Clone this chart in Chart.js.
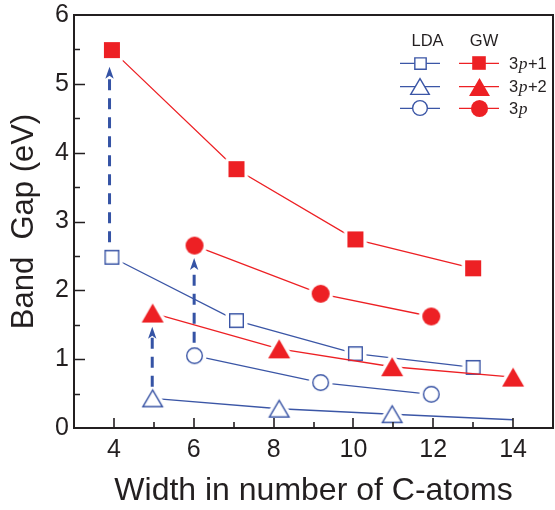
<!DOCTYPE html>
<html>
<head>
<meta charset="utf-8">
<script src="https://cdn.jsdelivr.net/npm/chart.js@4.4.1/dist/chart.umd.min.js"></script>
<style>
  html, body { margin: 0; padding: 0; background: #ffffff; }
  #wrap { width: 555px; height: 510px; }
</style>
</head>
<body>
<div id="wrap"><canvas id="c" width="555" height="510"></canvas></div>
<script>
// Band gaps of armchair ribbons by width family (3p+1, 3p+2, 3p), LDA vs GW
const widthsP1 = [3.95, 7.07, 10.05, 13];
const gwP1 = [5.49, 3.76, 2.74, 2.32];
const ldaP1 = [2.48, 1.56, 1.08, 0.88];

const widthsP2 = [4.97, 8.14, 10.97, 14];
const gwP2 = [1.67, 1.15, 0.89, 0.74];
const ldaP2 = [0.43, 0.28, 0.20, 0.12];

const widthsP = [6.02, 9.18, 11.95];
const gwP = [2.65, 1.95, 1.62];
const ldaP = [1.05, 0.66, 0.49];

// Quasiparticle correction arrows (LDA value -> GW value)
const arrowX = [3.89, 4.96, 6.01];
const arrowFrom = [2.70, 0.60, 1.24];
const arrowTo = [5.25, 1.47, 2.47];

const xTickValues = [4, 6, 8, 10, 12, 14];
const yTickValues = [0, 1, 2, 3, 4, 5, 6];

const familyLabels = ['+1', '+2', ''];
const methodLabels = ['LDA', 'GW'];

const RED = '#ed2024';
const BLUE = '#3b56a6';
const ARROW = '#3553a5';
const INK = '#231f20';
const SANS = '"Liberation Sans", Arial, Helvetica, sans-serif';
const SERIF = '"Liberation Serif", "Times New Roman", serif';

// Marker sprites; optional white halo keeps the connecting lines off the symbol
function markerIcon(shape, filled, color, w, h, halo) {
  const pad = halo ? 5 : 2;
  const cw = Math.round(w + 2 * pad), ch = Math.round(h + 2 * pad);
  const cv = document.createElement('canvas');
  cv.width = cw; cv.height = ch;
  const g = cv.getContext('2d');
  const cx = cw / 2, cy = ch / 2;
  function path(sw, sh) {
    g.beginPath();
    if (shape === 'square') g.rect(cx - sw / 2, cy - sh / 2, sw, sh);
    else if (shape === 'circle') g.arc(cx, cy, sw / 2, 0, Math.PI * 2);
    else {
      g.moveTo(cx, cy - sh / 2);
      g.lineTo(cx + sw / 2, cy + sh / 2);
      g.lineTo(cx - sw / 2, cy + sh / 2);
      g.closePath();
    }
  }
  g.lineJoin = 'round';
  if (halo) {
    path(w, h);
    g.strokeStyle = '#ffffff'; g.lineWidth = 7; g.stroke();
    g.fillStyle = '#ffffff'; g.fill();
  }
  if (filled) {
    path(w, h); g.fillStyle = color; g.fill();
  } else {
    path(w - 1.4, h - 1.4);
    g.fillStyle = '#ffffff'; g.fill();
    g.lineJoin = 'miter';
    g.strokeStyle = color; g.lineWidth = 1.4; g.stroke();
  }
  return cv;
}

const shapes = {
  gwSquare: ['square', true, RED, 16, 16],
  gwTri: ['triangle', true, RED, 22, 19],
  gwCircle: ['circle', true, RED, 18, 18],
  ldaSquare: ['square', false, BLUE, 15, 15],
  ldaTri: ['triangle', false, BLUE, 21, 18],
  ldaCircle: ['circle', false, BLUE, 17, 17]
};
const plotIcons = {}, legendIcons = {};
for (const k in shapes) {
  const s = shapes[k];
  const f = s[0] === 'square' ? 0.85 : 0.95;
  plotIcons[k] = markerIcon(s[0], s[1], s[2], s[3], s[4], true);
  legendIcons[k] = markerIcon(s[0], s[1], s[2], s[3] * f, s[4] * f, false);
}

function series(xs, ys, color, icon, hideLast) {
  return {
    data: xs.map((x, i) => ({ x: x, y: ys[i] })),
    borderColor: color,
    backgroundColor: color,
    borderWidth: 1.3,
    pointStyle: icon,
    pointRadius: (ctx) => (hideLast && ctx.dataIndex === xs.length - 1) ? 0 : 10,
    pointHoverRadius: 10,
    tension: 0,
    fill: false
  };
}

const datasets = [
  series(widthsP1, gwP1, RED, plotIcons.gwSquare),
  series(widthsP2, gwP2, RED, plotIcons.gwTri),
  series(widthsP, gwP, RED, plotIcons.gwCircle),
  series(widthsP1, ldaP1, BLUE, plotIcons.ldaSquare),
  series(widthsP2, ldaP2, BLUE, plotIcons.ldaTri, true),
  series(widthsP, ldaP, BLUE, plotIcons.ldaCircle)
];

// Dashed arrows from the LDA gap up to the GW gap
const arrowPlugin = {
  id: 'gapArrows',
  afterDatasetsDraw(chart) {
    const { ctx, scales: { x, y } } = chart;
    ctx.save();
    for (let i = 0; i < arrowX.length; i++) {
      const px = x.getPixelForValue(arrowX[i]);
      const y0 = y.getPixelForValue(arrowFrom[i]);
      const tip = y.getPixelForValue(arrowTo[i]);
      const headLen = 12, headW = 4.2;
      ctx.strokeStyle = ARROW;
      ctx.lineWidth = 3;
      ctx.setLineDash([11, 8]);
      ctx.beginPath();
      ctx.moveTo(px, y0);
      ctx.lineTo(px, tip + headLen - 2);
      ctx.stroke();
      ctx.setLineDash([]);
      ctx.fillStyle = ARROW;
      ctx.beginPath();
      ctx.moveTo(px, tip);
      ctx.lineTo(px + headW, tip + headLen);
      ctx.lineTo(px, tip + headLen - 3);
      ctx.lineTo(px - headW, tip + headLen);
      ctx.closePath();
      ctx.fill();
    }
    ctx.restore();
  }
};

// Box frame with inward major/minor ticks
const framePlugin = {
  id: 'frameTicks',
  afterDraw(chart) {
    const { ctx, chartArea: a, scales: { x, y } } = chart;
    ctx.save();
    ctx.strokeStyle = INK;
    ctx.lineWidth = 2;
    ctx.strokeRect(a.left, a.top, a.right - a.left, a.bottom - a.top);
    ctx.lineWidth = 1.6;
    ctx.beginPath();
    for (let v = 0.5; v < y.max; v += 0.5) {
      const py = Math.round(y.getPixelForValue(v)) + 0.5;
      const len = Number.isInteger(v) ? 11 : 6;
      ctx.moveTo(a.left, py); ctx.lineTo(a.left + len, py);
    }
    for (let v = Math.ceil(x.min) + 1; v < x.max; v += 1) {
      const px = Math.round(x.getPixelForValue(v));
      const len = v % 2 === 0 ? 10 : 6;
      ctx.moveTo(px, a.bottom); ctx.lineTo(px, a.bottom - len);
    }
    ctx.stroke();
    ctx.restore();
  }
};

// Two-column key: LDA (open) and GW (filled) per width family
const keyPlugin = {
  id: 'familyKey',
  afterDraw(chart) {
    const { ctx } = chart;
    const rows = [63.3, 86.7, 108.3];
    const cols = [420, 479];
    const colors = [BLUE, RED];
    const icons = [
      [legendIcons.ldaSquare, legendIcons.gwSquare],
      [legendIcons.ldaTri, legendIcons.gwTri],
      [legendIcons.ldaCircle, legendIcons.gwCircle]
    ];
    ctx.save();
    ctx.fillStyle = INK;
    ctx.font = '16.5px ' + SANS;
    ctx.textAlign = 'center';
    ctx.textBaseline = 'middle';
    ctx.fillText(methodLabels[0], 427.5, 41);
    ctx.fillText(methodLabels[1], 484, 41);
    for (let r = 0; r < rows.length; r++) {
      for (let c = 0; c < 2; c++) {
        ctx.strokeStyle = colors[c];
        ctx.lineWidth = 1.3;
        ctx.beginPath();
        ctx.moveTo(cols[c] - 20, rows[r]);
        ctx.lineTo(cols[c] + 20, rows[r]);
        ctx.stroke();
        const ic = icons[r][c];
        ctx.drawImage(ic, Math.round(cols[c] - ic.width / 2), Math.round(rows[r] - ic.height / 2));
      }
      ctx.fillStyle = INK;
      ctx.textAlign = 'left';
      ctx.textBaseline = 'middle';
      let tx = 509;
      ctx.font = '16.5px ' + SANS;
      ctx.fillText('3', tx, rows[r] + 1);
      tx += ctx.measureText('3').width + 0.5;
      ctx.font = 'italic 17.5px ' + SERIF;
      ctx.fillText('p', tx, rows[r] + 1);
      tx += ctx.measureText('p').width + 0.5;
      ctx.font = '16.5px ' + SANS;
      if (familyLabels[r]) ctx.fillText(familyLabels[r], tx, rows[r] + 1);
    }
    ctx.restore();
  }
};

// Fixed axis footprint; labels are allowed to overhang the plot box
function noOverhang(s) {
  s.paddingLeft = 0; s.paddingRight = 0; s.paddingTop = 0; s.paddingBottom = 0;
}

new Chart(document.getElementById('c'), {
  type: 'line',
  data: { datasets: datasets },
  options: {
    responsive: false,
    animation: false,
    devicePixelRatio: 1,
    layout: { autoPadding: false, padding: { top: 15, right: 2, left: 0, bottom: 0 } },
    plugins: { legend: { display: false }, tooltip: { enabled: false } },
    scales: {
      x: {
        type: 'linear',
        min: 3, max: 15,
        afterBuildTicks: (s) => { s.ticks = xTickValues.map(v => ({ value: v })); },
        afterFit: (s) => { s.height = 82; noOverhang(s); },
        grid: { display: false, drawTicks: false },
        border: { display: false },
        ticks: { color: INK, font: { family: SANS, size: 25 }, padding: 7, maxRotation: 0, autoSkip: false },
        title: { display: true, text: 'Width in number of C-atoms', color: INK, font: { family: SANS, size: 32 }, padding: { top: 0, bottom: 0 } }
      },
      y: {
        type: 'linear',
        min: 0, max: 6,
        afterBuildTicks: (s) => { s.ticks = yTickValues.map(v => ({ value: v })); },
        afterFit: (s) => { s.width = 74; noOverhang(s); },
        grid: { display: false, drawTicks: false },
        border: { display: false },
        ticks: { color: INK, font: { family: SANS, size: 25 }, padding: 5 },
        title: { display: true, text: 'Band  Gap (eV)', color: INK, font: { family: SANS, size: 31 }, padding: { top: 6, bottom: 0 } }
      }
    }
  },
  plugins: [arrowPlugin, framePlugin, keyPlugin]
});
</script>
</body>
</html>
